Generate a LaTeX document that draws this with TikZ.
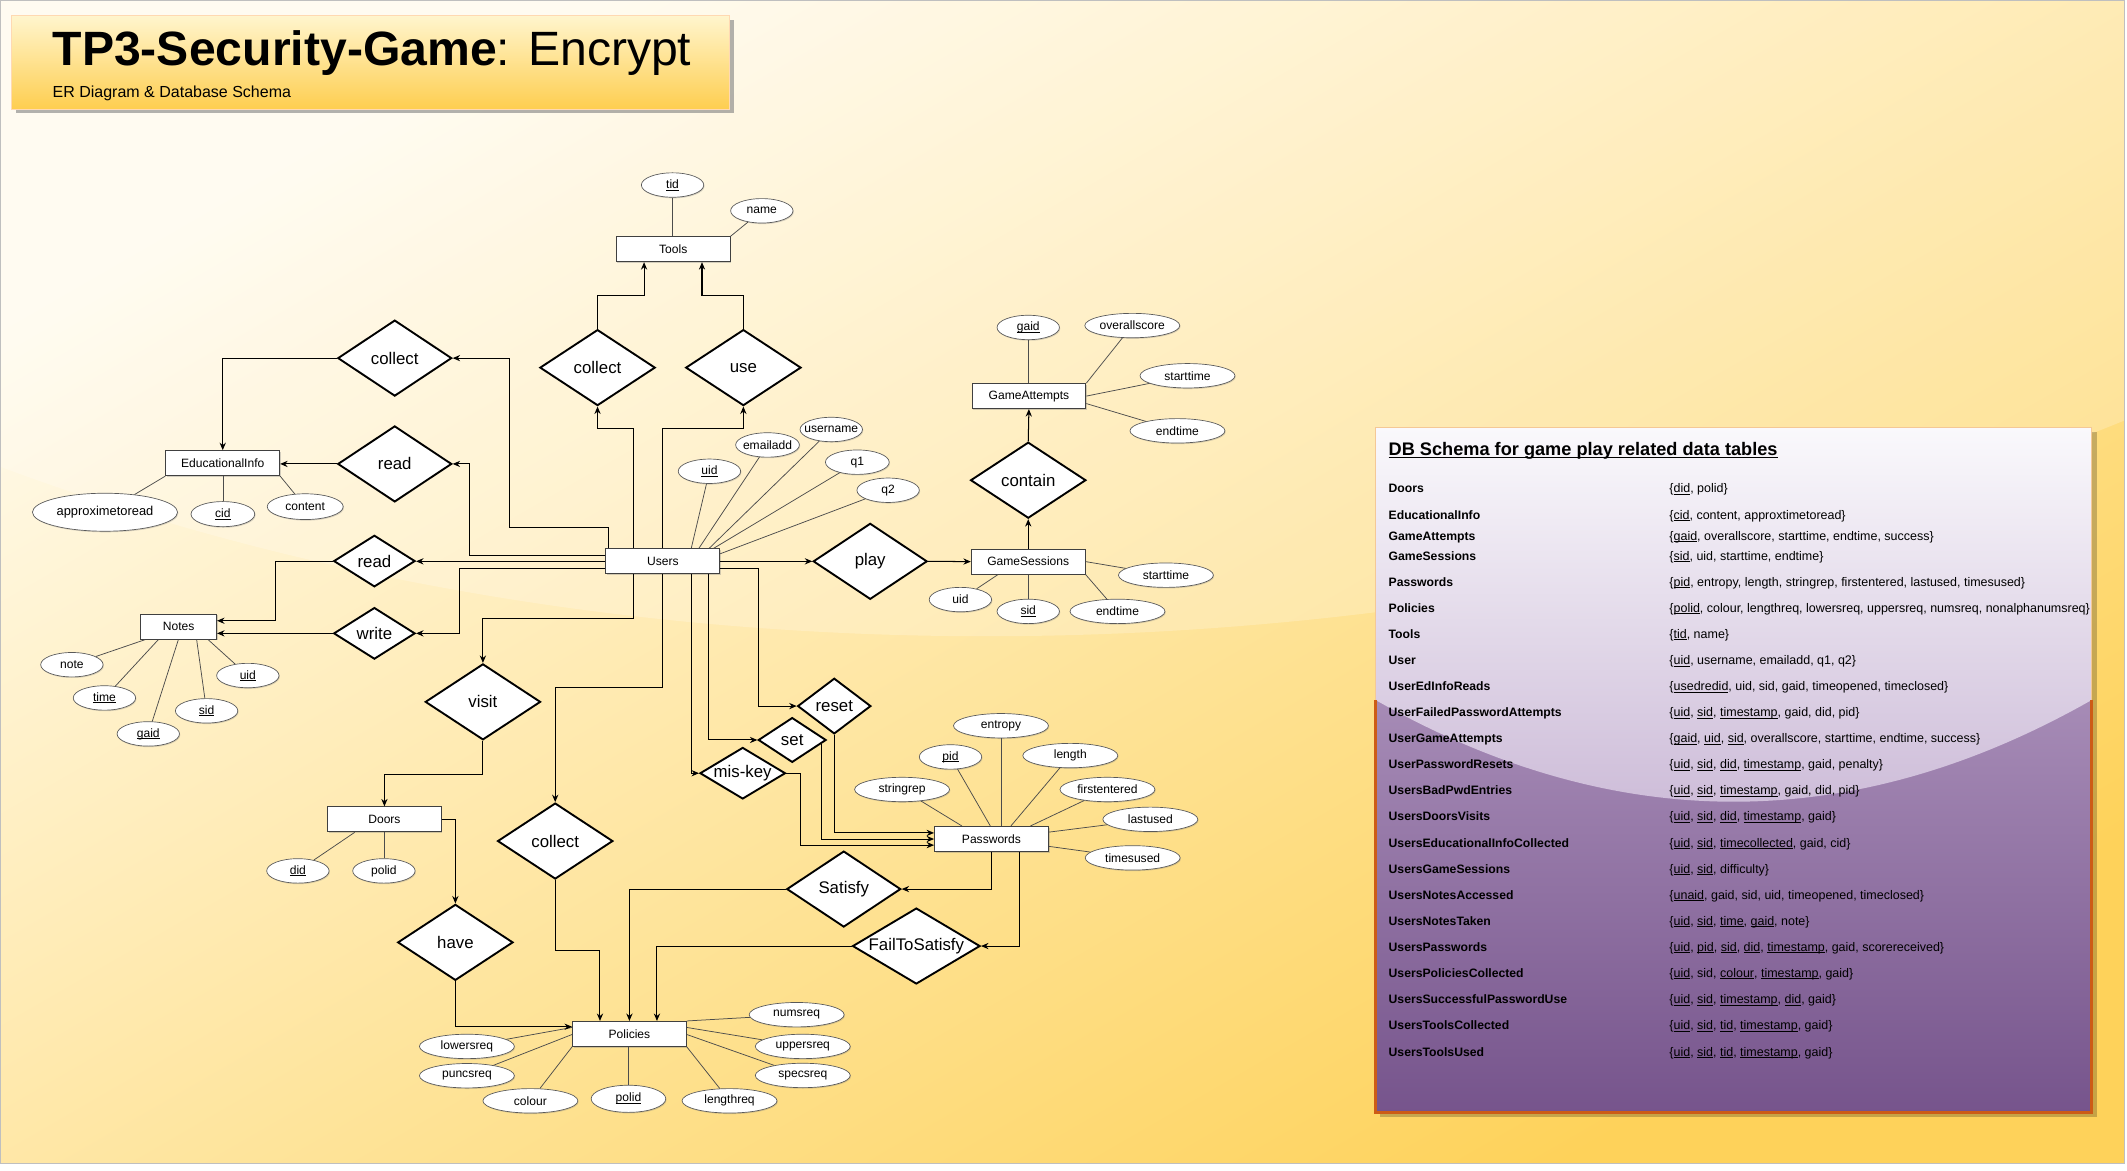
\documentclass[tikz,border=0pt]{standalone}
\usepackage{fontspec}
\setmainfont{Liberation Sans}
\usetikzlibrary{shapes.geometric,arrows.meta,calc,shadows}
\definecolor{bgA}{RGB}{255,251,238}
\definecolor{bgB}{RGB}{254,210,90}
\definecolor{tA}{RGB}{255,245,205}
\definecolor{tM}{RGB}{254,228,140}
\definecolor{tB}{RGB}{254,206,80}
\definecolor{pA}{RGB}{198,176,210}
\definecolor{pB}{RGB}{118,84,140}
\definecolor{gA}{RGB}{250,249,252}
\definecolor{gB}{RGB}{202,184,214}
\definecolor{bordL}{RGB}{244,200,150}
\definecolor{bordD}{RGB}{205,92,22}
\newcommand\uln[1]{\setbox0=\hbox{#1}\rlap{\rule[-0.14em]{\wd0}{0.06em}}\box0}
\newcommand\zb[1]{\makebox[0pt]{#1}}
\newcommand\srow[4]{\node[sname] (sn#1) at (1023.5,#2) {#3};\node[sval] (sv#1) at (1230.5,#2) {#4};}
\begin{document}
\begin{tikzpicture}[x=1pt,y=-1pt,
 ent/.style={draw=black!75, fill=white, minimum width=84pt, minimum height=18.5pt, inner sep=0pt, line width=0.65pt, font=\fontsize{8.9}{10}\selectfont, drop shadow={shadow xshift=0.8pt, shadow yshift=-0.9pt, opacity=0.35}},
 rel/.style={diamond, draw=black, fill=white, line width=1.4pt, inner sep=0pt, shape aspect=1.5, font=\fontsize{12.4}{14}\selectfont},
 att/.style={ellipse, draw=black!65, fill=white, inner sep=0pt, minimum width=46pt, minimum height=18pt, line width=0.5pt, font=\fontsize{8.9}{10}\selectfont, drop shadow={shadow xshift=0.6pt, shadow yshift=-0.8pt, opacity=0.3}},
 watt/.style={att, minimum width=70pt},
 conn/.style={draw=black, line width=0.75pt, -{Stealth[length=5.5pt,width=4.6pt]}},
 aline/.style={draw=black!70, line width=0.55pt},
 sname/.style={anchor=base west, inner sep=0pt, font=\fontsize{9}{11}\selectfont\bfseries},
 sval/.style={anchor=base west, inner sep=0pt, font=\fontsize{9.2}{11}\selectfont},
 ]
\useasboundingbox (0,0) rectangle (1568,863);
% ---------- background
\fill[white] (0,0) rectangle (1568,863);
\shade[top color=bgA, bottom color=bgB, shading angle=30] (0,0) rectangle (1566,858);
\fill[white, opacity=0.22] (0,0) -- (0,344) .. controls (500,530) and (1100,500) .. (1566,310) -- (1566,0) -- cycle;
\draw[black!25, line width=0.6pt] (0.3,0.3) rectangle (1566,858);
% ---------- title
\fill[black!50, opacity=0.6] (11.6,14.8) rectangle (541,83.6);
\shade[top color=tA, middle color=tM, bottom color=tB] (8.6,11.6) rectangle (537.8,80.4);
\draw[white!70!orange, line width=0.5pt] (8.6,11.6) rectangle (537.8,80.4);
\node[anchor=base west, inner sep=0pt, font=\fontsize{35.5}{40}\selectfont] (title) at (38.6,48) {\textbf{TP3-Security-Game}: Encrypt};
\node[anchor=base west, inner sep=0pt, font=\fontsize{11.8}{13}\selectfont] (subtitle) at (38.6,72) {ER Diagram \& Database Schema};
% ---------- schema panel
\fill[black, opacity=0.22] (1017.5,318.5) rectangle (1546,823.5);
\shade[top color=pA, bottom color=pB] (1014,315) rectangle (1542,820);
\shade[top color=gA, bottom color=gB] (1014,315) -- (1014,516) .. controls (1190,616) and (1366,616) .. (1542,516) -- (1542,315) -- cycle;
\draw[bordL, line width=1pt] (1014,315) rectangle (1542,820);
\draw[bordD, line width=2pt] (1014,516) -- (1014,820) -- (1542,820) -- (1542,516);
\node[anchor=base west, inner sep=0pt, font=\fontsize{13.4}{15}\selectfont\bfseries] (ptitle) at (1023.5,336) {\uln{DB Schema for game play related data tables}};
\srow{1}{363.4}{Doors}{\{\uln{did}, polid\}}
\srow{2}{382.8}{EducationalInfo}{\{\uln{cid}, content, approxtimetoread\}}
\srow{3}{398.3}{GameAttempts}{\{\uln{gaid}, overallscore, starttime, endtime, success\}}
\srow{4}{413}{GameSessions}{\{\uln{sid}, uid, starttime, endtime\}}
\srow{5}{432.2}{Passwords}{\{\uln{pid}, entropy, length, stringrep, firstentered, lastused, timesused\}}
\srow{6}{451.4}{Policies}{\{\uln{polid}, colour, lengthreq, lowersreq, uppersreq, numsreq, nonalphanumsreq\}}
\srow{7}{470.5}{Tools}{\{\uln{tid}, name\}}
\srow{8}{490}{User}{\{\uln{uid}, username, emailadd, q1, q2\}}
\srow{9}{509.1}{UserEdInfoReads}{\{\uln{usedredid}, uid, sid, gaid, timeopened, timeclosed\}}
\srow{10}{528.3}{UserFailedPasswordAttempts}{\{\uln{uid}, \uln{sid}, \uln{timestamp}, gaid, did, pid\}}
\srow{11}{547.4}{UserGameAttempts}{\{\uln{gaid}, \uln{uid}, \uln{sid}, overallscore, starttime, endtime, success\}}
\srow{12}{566.6}{UserPasswordResets}{\{\uln{uid}, \uln{sid}, \uln{did}, \uln{timestamp}, gaid, penalty\}}
\srow{13}{585.8}{UsersBadPwdEntries}{\{\uln{uid}, \uln{sid}, \uln{timestamp}, gaid, did, pid\}}
\srow{14}{605.2}{UsersDoorsVisits}{\{\uln{uid}, \uln{sid}, \uln{did}, \uln{timestamp}, gaid\}}
\srow{15}{624.6}{UsersEducationalInfoCollected}{\{\uln{uid}, \uln{sid}, \uln{timecollected}, gaid, cid\}}
\srow{16}{643.8}{UsersGameSessions}{\{\uln{uid}, \uln{sid}, difficulty\}}
\srow{17}{662.9}{UsersNotesAccessed}{\{\uln{unaid}, gaid, sid, uid, timeopened, timeclosed\}}
\srow{18}{682.1}{UsersNotesTaken}{\{\uln{uid}, \uln{sid}, \uln{time}, \uln{gaid}, note\}}
\srow{19}{701.3}{UsersPasswords}{\{\uln{uid}, \uln{pid}, \uln{sid}, \uln{did}, \uln{timestamp}, gaid, scorereceived\}}
\srow{20}{720.4}{UsersPoliciesCollected}{\{\uln{uid}, sid, \uln{colour}, \uln{timestamp}, gaid\}}
\srow{21}{739.9}{UsersSuccessfulPasswordUse}{\{\uln{uid}, \uln{sid}, \uln{timestamp}, \uln{did}, gaid\}}
\srow{22}{759}{UsersToolsCollected}{\{\uln{uid}, \uln{sid}, \uln{tid}, \uln{timestamp}, gaid\}}
\srow{23}{778.7}{UsersToolsUsed}{\{\uln{uid}, \uln{sid}, \uln{tid}, \uln{timestamp}, gaid\}}
% ---------- entities
\node[ent] (tools) at (496.3,183.7) {Tools};
\node[ent] (users) at (488.6,413.8) {Users};
\node[ent] (edu) at (164.2,341.4) {EducationalInfo};
\node[ent, minimum width=56pt] (notes) at (131.7,462) {Notes};
\node[ent] (doors) at (283.4,604) {Doors};
\node[ent] (policies) at (464,762.2) {Policies};
\node[ent] (passwords) at (730.9,618.5) {Passwords};
\node[ent] (gs) at (758,414) {GameSessions};
\node[ent] (ga) at (758.5,292) {GameAttempts};
% ---------- relationships
\node[rel, minimum width=84pt, minimum height=56pt] (colEdu) at (291,264) {\zb{collect}};
\node[rel, minimum width=84pt, minimum height=56pt] (readEdu) at (291,342) {\zb{read}};
\node[rel, minimum width=60pt, minimum height=38pt] (readNotes) at (276,413.6) {\zb{read}};
\node[rel, minimum width=60pt, minimum height=38pt] (write) at (276,466.9) {\zb{write}};
\node[rel, minimum width=85pt, minimum height=56pt] (colTools) at (440.5,271) {\zb{collect}};
\node[rel, minimum width=85pt, minimum height=56pt] (use) at (548,271) {\zb{use}};
\node[rel, minimum width=84pt, minimum height=56pt] (play) at (641.5,413.8) {\zb{play}};
\node[rel, minimum width=85pt, minimum height=56pt] (contain) at (758,354) {\zb{contain}};
\node[rel, minimum width=85pt, minimum height=56pt] (visit) at (356,517.4) {\zb{visit}};
\node[rel, minimum width=85pt, minimum height=56pt] (colPol) at (409.3,620) {\zb{collect}};
\node[rel, minimum width=85pt, minimum height=56pt] (have) at (335.7,694.7) {\zb{have}};
\node[rel, minimum width=54pt, minimum height=41pt] (reset) at (615,520.5) {\zb{reset}};
\node[rel, minimum width=50pt, minimum height=33pt] (set) at (584,545.5) {\zb{set}};
\node[rel, minimum width=63pt, minimum height=38pt] (miskey) at (547.5,570) {\zb{mis-key}};
\node[rel, minimum width=84pt, minimum height=56pt] (satisfy) at (622,655.4) {\zb{Satisfy}};
\node[rel, minimum width=94pt, minimum height=56pt] (fts) at (675.5,697.4) {\zb{FailToSatisfy}};
% ---------- attributes
\node[att] (tid) at (495.8,136.4) {\zb{\uln{tid}}};
\node[att] (tname) at (561.6,155.4) {\zb{name}};
\node[att] (uuid) at (523,347.4) {\zb{\uln{uid}}};
\node[att, minimum width=47pt] (email) at (565.8,328) {\zb{emailadd}};
\node[att] (uname) at (612.8,316.6) {\zb{username}};
\node[att, minimum width=47pt] (q1) at (632,340.7) {\zb{q1}};
\node[att] (q2) at (654.7,361.4) {\zb{q2}};
\node[att, minimum width=107pt, minimum height=28pt, font=\fontsize{9.5}{11}\selectfont] (approx) at (77.4,377.6) {\zb{approximetoread}};
\node[att, minimum width=47pt, minimum height=18.5pt] (cid) at (164.3,379) {\zb{\uln{cid}}};
\node[att, minimum width=56pt, minimum height=19pt] (content) at (225,373.5) {\zb{content}};
\node[att] (note) at (53,490) {\zb{note}};
\node[att] (ntime) at (77,514.5) {\zb{\uln{time}}};
\node[att] (ngaid) at (109.3,541) {\zb{\uln{gaid}}};
\node[att] (nsid) at (152.3,524) {\zb{\uln{sid}}};
\node[att] (nuid) at (182.7,498) {\zb{\uln{uid}}};
\node[att] (did) at (219.6,642) {\zb{\uln{did}}};
\node[att] (dpolid) at (283,642) {\zb{polid}};
\node[watt] (numsreq) at (587.3,748) {\zb{numsreq}};
\node[watt] (uppersreq) at (591.8,771.4) {\zb{uppersreq}};
\node[watt] (specsreq) at (591.8,792.8) {\zb{specsreq}};
\node[watt] (lengthreq) at (537.8,811.5) {\zb{lengthreq}};
\node[att, minimum width=55pt, minimum height=20pt] (ppolid) at (463.3,810) {\zb{\uln{polid}}};
\node[watt] (colour) at (391,811.5) {\zb{colour}};
\node[watt] (puncsreq) at (344.2,793) {\zb{puncsreq}};
\node[watt] (lowersreq) at (344.2,771.4) {\zb{lowersreq}};
\node[watt] (entropy) at (737.9,535) {\zb{entropy}};
\node[att] (pid) at (700.7,558) {\zb{\uln{pid}}};
\node[watt] (pwlength) at (789,557) {\zb{length}};
\node[watt] (stringrep) at (665,582) {\zb{stringrep}};
\node[watt] (firstentered) at (816.4,582) {\zb{firstentered}};
\node[watt] (lastused) at (848,604) {\zb{lastused}};
\node[watt] (timesused) at (835,632.4) {\zb{timesused}};
\node[watt] (gsstart) at (859.5,424) {\zb{starttime}};
\node[watt] (gsend) at (823.8,450.7) {\zb{endtime}};
\node[att] (gssid) at (758,450.7) {\zb{\uln{sid}}};
\node[att] (gsuid) at (708,442) {\zb{uid}};
\node[att] (gagaid) at (758,241.4) {\zb{\uln{gaid}}};
\node[watt] (overall) at (834.7,240) {\zb{overallscore}};
\node[watt] (gastart) at (875.4,277) {\zb{starttime}};
\node[watt] (gaend) at (868,317.6) {\zb{endtime}};
% ---------- attribute lines
\draw[aline] (tid) -- (tid |- tools.north);
\draw[aline] (tname) -- (tools.north east);
\draw[aline] (uuid) -- ([xshift=63.3pt]users.north west);
\draw[aline] (email) -- ([xshift=68.9pt]users.north west);
\draw[aline] (uname) -- ([xshift=76.5pt]users.north west);
\draw[aline] (q1) -- ([xshift=79.8pt]users.north west);
\draw[aline] (q2) -- ([yshift=-4pt]users.north east);
\draw[aline] (approx) -- (edu.south west);
\draw[aline] (cid) -- (cid |- edu.south);
\draw[aline] (content) -- (edu.south east);
\draw[aline] (note) -- ([xshift=3.5pt]notes.south west);
\draw[aline] (ntime) -- ([xshift=13.3pt]notes.south west);
\draw[aline] (ngaid) -- ([xshift=28.1pt]notes.south west);
\draw[aline] (nsid) -- ([xshift=41.6pt]notes.south west);
\draw[aline] (nuid) -- ([xshift=50.1pt]notes.south west);
\draw[aline] (did) -- ([xshift=20.4pt]doors.south west);
\draw[aline] (dpolid) -- (dpolid |- doors.south);
\draw[aline] (numsreq) -- (policies.north east);
\draw[aline] (uppersreq) -- ([yshift=-4.8pt]policies.north east);
\draw[aline] (specsreq) -- ([yshift=-10pt]policies.north east);
\draw[aline] (lengthreq) -- (policies.south east);
\draw[aline] (ppolid) -- (ppolid |- policies.south);
\draw[aline] (colour) -- (policies.south west);
\draw[aline] (puncsreq) -- ([yshift=-10pt]policies.north west);
\draw[aline] (lowersreq) -- ([yshift=-4.8pt]policies.north west);
\draw[aline] (stringrep) -- ([xshift=20.6pt]passwords.north west);
\draw[aline] (pid) -- ([xshift=41.5pt]passwords.north west);
\draw[aline] (entropy) -- (entropy |- passwords.north);
\draw[aline] (pwlength) -- ([xshift=56.6pt]passwords.north west);
\draw[aline] (firstentered) -- ([xshift=71pt]passwords.north west);
\draw[aline] (lastused) -- ([yshift=-4.5pt]passwords.north east);
\draw[aline] (timesused) -- ([yshift=-15pt]passwords.north east);
\draw[aline] (gsstart) -- (gs.east);
\draw[aline] (gsend) -- (gs.south east);
\draw[aline] (gssid) -- (gssid |- gs.south);
\draw[aline] (gsuid) -- ([xshift=20pt]gs.south west);
\draw[aline] (gagaid) -- (gagaid |- ga.north);
\draw[aline] (overall) -- (ga.north east);
\draw[aline] (gastart) -- (ga.east);
\draw[aline] (gaend) -- ([yshift=-5.5pt]ga.east);
% ---------- connectors
\draw[conn] ([xshift=2.4pt]users.north west) |- (375.5,389) |- (colEdu.east);
\draw[conn] ([yshift=4.2pt]users.west) -| ([xshift=12.6pt]readEdu.east) -- (readEdu.east);
\draw[conn] (users.west) -- (users.west -| readNotes.east);
\draw[conn] ([yshift=-5.4pt]users.west) -| ([xshift=32pt]write.east) -- (write.east);
\draw[conn] ([xshift=21pt]users.north west) |- ([yshift=-16pt]colTools.south) -- (colTools.south);
\draw[conn] ([xshift=42.4pt]users.north west) |- ([yshift=-16pt]use.south) -- (use.south);
\draw[conn] (users.east) -- (play.west);
\draw[conn] ([yshift=-5.4pt]users.east) -| ([xshift=-28.3pt]reset.west) -- (reset.west);
\draw[conn] ([xshift=76.3pt]users.south west) |- (set.west);
\draw[conn] ([xshift=63.3pt]users.south west) |- (miskey.west);
\draw[conn] ([xshift=21pt]users.south west) |- ([yshift=32.9pt]visit.north) -- (visit.north);
\draw[conn] ([xshift=42.4pt]users.south west) |- ([yshift=84.5pt]colPol.north) -- (colPol.north);
\draw[conn] (colEdu.west) -| (edu.north);
\draw[conn] (readEdu.west) -- (readEdu.west -| edu.east);
\draw[conn] (readNotes.west) -| ([xshift=43.4pt,yshift=4.4pt]notes.east) -- ([yshift=4.4pt]notes.east);
\draw[conn] (write.west) -- (write.west -| notes.east);
\draw[conn] (colTools.north) |- ([xshift=-21.5pt,yshift=-24.75pt]tools.south) -- ([xshift=-21.5pt]tools.south);
\draw[conn] (use.north) |- ([xshift=21.2pt,yshift=-24.75pt]tools.south) -- ([xshift=21.2pt]tools.south);
\draw[conn] (play.east) -- (gs.west);
\draw[conn] (gs.north) -- (contain.south);
\draw[conn] (contain.north) -- (ga.south);
\draw[conn] (visit.south) -- ++(0,24.6) -| (doors.north);
\draw[conn] (doors.east) -| (have.north);
\draw[conn] (have.south) |- ([yshift=5.3pt]policies.west);
\draw[conn] (colPol.south) -- ++(0,51.8) -| ([xshift=-21.7pt]policies.north);
\draw[conn] (satisfy.west) -| (policies.north);
\draw[conn] (fts.west) -| ([xshift=20.3pt]policies.north);
\draw[conn] (passwords.south) |- (satisfy.east);
\draw[conn] ([xshift=20.8pt]passwords.south) |- (fts.east);
\draw[conn] (reset.south) |- ([yshift=4.5pt]passwords.west);
\draw[conn] ([xshift=-3.9pt,yshift=-2.6pt]set.east) |- (passwords.west);
\draw[conn] (miskey.east) -- ++(10.4,0) |- ([yshift=-4.5pt]passwords.west);
\end{tikzpicture}
\end{document}
